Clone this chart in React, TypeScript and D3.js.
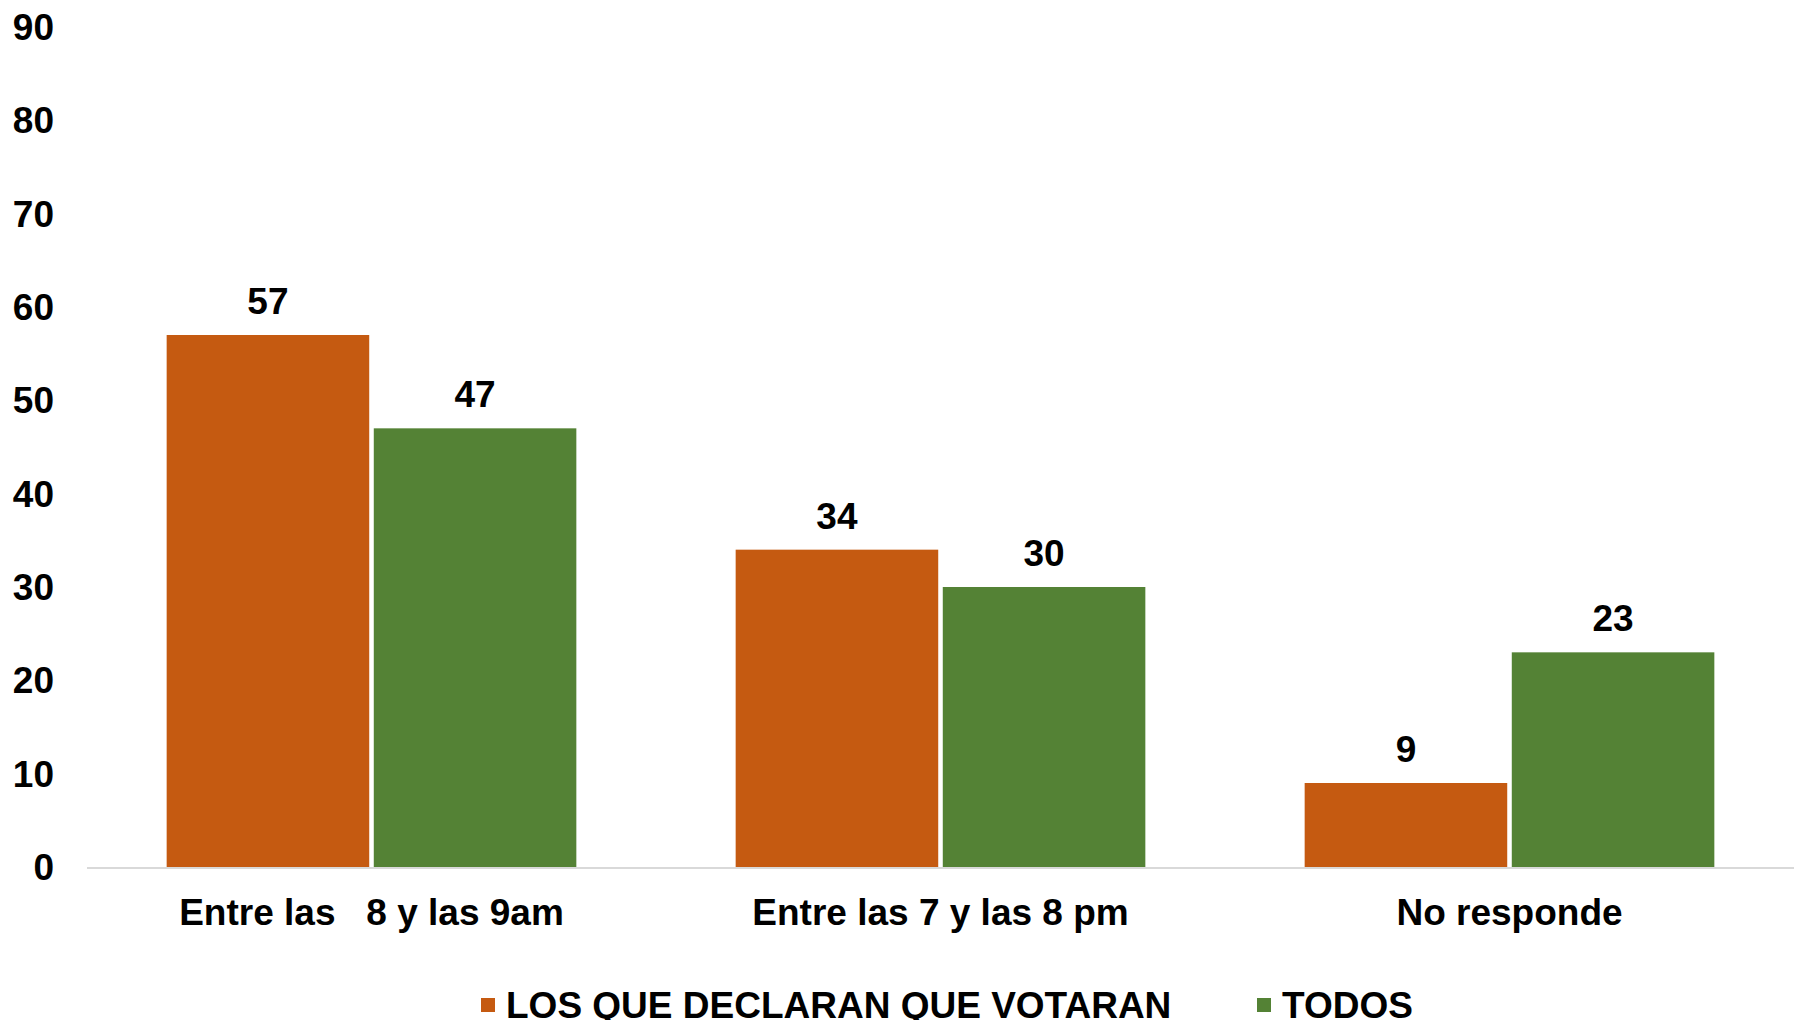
import React from "react";
import * as d3 from "d3";

const categories = ["Entre las   8 y las 9am", "Entre las 7 y las 8 pm", "No responde"];
const seriesNames = ["LOS QUE DECLARAN QUE VOTARAN", "TODOS"];
const votaranValues = [57, 34, 9];
const todosValues = [47, 30, 23];
const yTicks = [0, 10, 20, 30, 40, 50, 60, 70, 80, 90];
const colors = ["#C55A11", "#548235"];

const W = 1794;
const H = 1020;
const FONT = "'Liberation Sans', Arial, sans-serif";

export default function App() {
  const x = d3.scaleBand<string>().domain(categories).range([87, 1794]).paddingInner(0.28).paddingOuter(0.14);
  const xs = d3.scaleBand<string>().domain(seriesNames).range([0, x.bandwidth()]).paddingInner(0.022);
  const y = d3.scaleLinear().domain([0, 90]).range([867, 27]);
  const series = [votaranValues, todosValues];

  return (
    <svg width={W} height={H} style={{ position: "absolute", left: 0, top: 0, background: "#fff" }} fontFamily={FONT}>
      <rect x={0} y={0} width={W} height={H} fill="#fff" />
      {yTicks.map((t) => (
        <text key={t} x={54} y={y(t) + 13} textAnchor="end" fontSize={37} fontWeight="bold" fill="#000">
          {t}
        </text>
      ))}
      {categories.map((c, ci) =>
        series.map((vals, si) => {
          const bx = (x(c) as number) + (xs(seriesNames[si]) as number);
          return (
            <g key={c + si}>
              <rect x={bx} y={y(vals[ci])} width={xs.bandwidth()} height={y(0) - y(vals[ci])} fill={colors[si]} />
              <text x={bx + xs.bandwidth() / 2} y={y(vals[ci]) - 21} textAnchor="middle" fontSize={37} fontWeight="bold" fill="#000">
                {vals[ci]}
              </text>
            </g>
          );
        })
      )}
      <line x1={87} x2={1794} y1={y(0) + 1} y2={y(0) + 1} stroke="#D9D9D9" strokeWidth={2} />
      {categories.map((c) => (
        <text key={c} x={(x(c) as number) + x.bandwidth() / 2} y={925} textAnchor="middle" fontSize={37} fontWeight="bold" fill="#000" style={{ whiteSpace: "pre" }} xmlSpace="preserve">
          {c}
        </text>
      ))}
      <g>
        <rect x={481} y={998} width={14} height={14} fill={colors[0]} />
        <text x={506} y={1018} fontSize={37} fontWeight="bold" fill="#000">{seriesNames[0]}</text>
        <rect x={1257} y={998} width={14} height={14} fill={colors[1]} />
        <text x={1282} y={1018} fontSize={37} fontWeight="bold" fill="#000">{seriesNames[1]}</text>
      </g>
    </svg>
  );
}
